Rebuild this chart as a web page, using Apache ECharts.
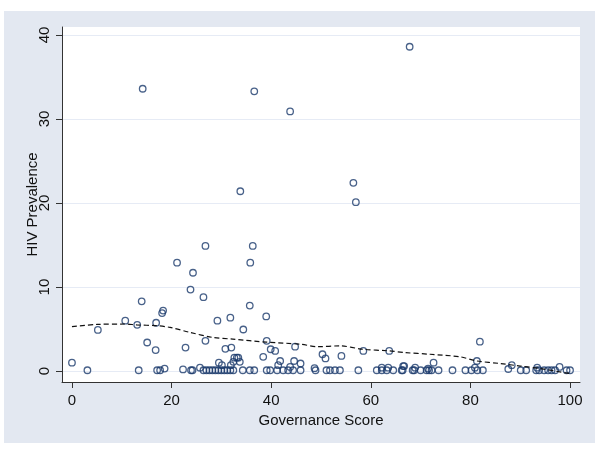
<!DOCTYPE html>
<html>
<head>
<meta charset="utf-8">
<script src="https://cdn.jsdelivr.net/npm/echarts@6/dist/echarts.min.js"></script>
<style>
  html, body { margin: 0; padding: 0; background: #fff; }
  #chart { width: 600px; height: 450px; }
</style>
</head>
<body>
<div id="chart"></div>
<script>
// scatter points: governance score vs HIV prevalence
const governance = [
  67.8, 14.2, 36.6, 43.8, 33.8, 56.5, 57.0, 26.8, 36.3, 21.1, 35.8, 24.3, 23.8, 26.4, 14.0, 35.7,
  18.3, 18.1, 39.0, 31.8, 29.2, 10.7, 16.9, 13.1, 5.2, 34.4, 15.1, 26.8, 39.1, 81.9, 44.8, 22.8,
  32.0, 30.8, 16.8, 39.9, 40.8, 58.5, 63.7, 50.3, 54.1, 38.4, 32.6, 33.1, 33.4, 50.9, 41.8, 44.6,
  81.3, 32.4, 33.7, 0.0, 29.5, 72.6, 45.9, 30.1, 31.9, 41.4, 88.3, 66.5, 66.7, 43.8, 97.9, 25.7,
  62.2, 63.5, 68.9, 80.9, 93.4, 18.6, 48.7, 71.5, 87.6, 22.3,
  3.1, 13.4, 17.1, 17.7, 23.9, 24.2, 26.4, 27.0, 27.6, 28.2, 28.8, 29.4, 30.0, 30.6, 31.2, 31.8,
  32.4, 34.3, 35.7, 36.6, 39.1, 39.8, 41.2, 42.4, 43.4, 44.4, 45.9, 48.9, 51.1, 51.8, 52.8, 53.8,
  57.5, 61.2, 62.2, 63.2, 64.5, 66.2, 66.4, 68.4, 68.7, 70.0, 71.2, 71.7, 72.2, 73.6, 76.4, 79.0,
  80.2, 81.4, 82.5, 90.1, 91.2, 93.2, 93.8, 94.8, 95.6, 96.3, 97.0, 99.3, 100.0
];
const hiv = [
  38.6, 33.6, 33.3, 30.9, 21.4, 22.4, 20.1, 14.9, 14.9, 12.9, 12.9, 11.7, 9.7, 8.8, 8.3, 7.8,
  7.2, 6.9, 6.5, 6.35, 6.0, 6.0, 5.75, 5.5, 4.9, 4.95, 3.4, 3.6, 3.6, 3.5, 2.9, 2.8,
  2.8, 2.65, 2.5, 2.6, 2.4, 2.4, 2.4, 2.0, 1.8, 1.7, 1.6, 1.6, 1.6, 1.5, 1.2, 1.2,
  1.2, 1.1, 1.1, 1.0, 1.0, 1.0, 0.9, 0.7, 0.7, 0.7, 0.7, 0.6, 0.6, 0.5, 0.5, 0.4,
  0.4, 0.4, 0.4, 0.4, 0.4, 0.3, 0.35, 0.3, 0.25, 0.2,
  0.1, 0.1, 0.1, 0.1, 0.1, 0.1, 0.1, 0.1, 0.1, 0.1, 0.1, 0.1, 0.1, 0.1, 0.1, 0.1,
  0.1, 0.1, 0.1, 0.1, 0.1, 0.1, 0.1, 0.1, 0.1, 0.1, 0.1, 0.1, 0.1, 0.1, 0.1, 0.1,
  0.1, 0.1, 0.1, 0.1, 0.1, 0.1, 0.1, 0.1, 0.1, 0.1, 0.1, 0.1, 0.1, 0.1, 0.1, 0.1,
  0.1, 0.1, 0.1, 0.1, 0.1, 0.1, 0.1, 0.1, 0.1, 0.1, 0.1, 0.1, 0.1
];
// lowess smoother (dashed)
const lowessX = [0, 5, 10.7, 13, 17, 19.7, 23.7, 28.3, 32.3, 39, 45.8, 49.4, 53.8, 58.4, 63.7, 66.9, 71.9, 77.9, 81.3, 86, 90, 94, 100];
const lowessY = [5.3, 5.55, 5.6, 5.5, 5.4, 5.2, 4.6, 4.0, 3.8, 3.45, 3.2, 2.9, 3.0, 2.6, 2.4, 2.2, 2.0, 1.7, 1.2, 0.9, 0.6, 0.3, -0.3];
const xTicks = [0, 20, 40, 60, 80, 100];
const yTicks = [0, 10, 20, 30, 40];

const chart = echarts.init(document.getElementById("chart"));
const fontFamily = "Liberation Sans, Arial, sans-serif";

chart.setOption({
  backgroundColor: "#fff",
  animation: false,
  graphic: [
    {
      type: "rect",
      z: -10,
      shape: { x: 4, y: 11, width: 591, height: 432 },
      style: { fill: "#e3e8f1" },
    },
  ],
  grid: {
    left: 62,
    right: 20,
    top: 27,
    bottom: 68,
    show: true,
    backgroundColor: "#fff",
    borderWidth: 0,
  },
  xAxis: {
    type: "value",
    min: -2,
    max: 102,
    name: "Governance Score",
    nameLocation: "middle",
    nameGap: 27,
    nameTextStyle: { fontFamily, fontSize: 15, color: "#111" },
    axisLine: { onZero: false, lineStyle: { color: "#333", width: 1 } },
    axisTick: { show: true, length: 6, customValues: xTicks, lineStyle: { color: "#333" } },
    axisLabel: { customValues: xTicks, margin: 11, fontFamily, fontSize: 15, color: "#111" },
    splitLine: { show: false },
  },
  yAxis: {
    type: "value",
    min: -1.3,
    max: 40.95,
    name: "HIV Prevalence",
    nameLocation: "middle",
    nameGap: 22,
    nameMoveOverlap: false,
    nameRotate: 90,
    nameTextStyle: { fontFamily, fontSize: 15, color: "#111" },
    axisLine: { show: true, onZero: false, lineStyle: { color: "#333", width: 1 } },
    axisTick: { show: true, length: 6, customValues: yTicks, lineStyle: { color: "#333" } },
    axisLabel: { customValues: yTicks, rotate: 90, margin: 10, fontFamily, fontSize: 15, color: "#111" },
    splitLine: { show: true, lineStyle: { color: "#e6ebf5", width: 1 } },
  },
  series: [
    {
      type: "scatter",
      data: governance.map((g, i) => [g, hiv[i]]),
      symbol: "circle",
      symbolSize: 6.5,
      itemStyle: { color: "rgba(255,255,255,0)", borderColor: "#1a3a6c", borderWidth: 1.3 },
      z: 3,
    },
    {
      type: "line",
      data: lowessX.map((x, i) => [x, lowessY[i]]),
      showSymbol: false,
      smooth: 0.3,
      lineStyle: { color: "#111", width: 1.2, type: [5, 3] },
      z: 4,
    },
  ],
});
</script>
</body>
</html>
